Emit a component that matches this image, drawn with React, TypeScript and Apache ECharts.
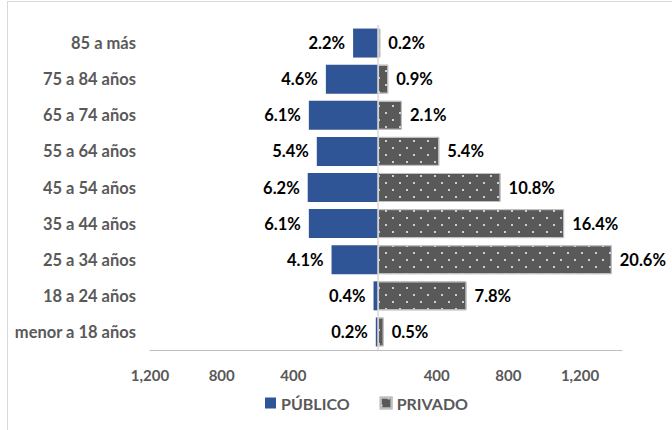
import React, { useEffect, useRef } from "react";
import * as echarts from "echarts";

const categories = [
  "85 a más",
  "75 a 84 años",
  "65 a 74 años",
  "55 a 64 años",
  "45 a 54 años",
  "35 a 44 años",
  "25 a 34 años",
  "18 a 24 años",
  "menor a 18 años",
];
const publico = [2.2, 4.6, 6.1, 5.4, 6.2, 6.1, 4.1, 0.4, 0.2];
const privado = [0.2, 0.9, 2.1, 5.4, 10.8, 16.4, 20.6, 7.8, 0.5];
const tickMin = -1200;
const tickMax = 1434;
const tickInterval = 400;

const FONT = "Lato, 'Noto Sans', sans-serif";
const GRAY = "#595959";

export default function App() {
  const ref = useRef<HTMLDivElement>(null);
  useEffect(() => {
    if (!ref.current) return;
    const chart = echarts.init(ref.current, null, { renderer: "svg" });
    const fmtTick = (v: number) => {
      if (v === 0 || Math.abs(v) > 1200) return "";
      return Math.abs(v).toLocaleString("en-US");
    };
    chart.setOption({
      animation: false,
      textStyle: { fontFamily: FONT },
      graphic: [
        { type: "line", shape: { x1: 7, y1: 1.5, x2: 672, y2: 1.5 }, style: { stroke: "#d9d9d9", lineWidth: 1 } },
        { type: "line", shape: { x1: 7.5, y1: 1, x2: 7.5, y2: 430 }, style: { stroke: "#d9d9d9", lineWidth: 1 } },
      ],
      grid: { left: 150, right: 50, top: 25, bottom: 80, containLabel: false, outerBoundsMode: "none" },
      legend: {
        bottom: 14,
        left: 260,
        itemWidth: 11,
        itemHeight: 11,
        itemGap: 30,
        icon: "rect",
        textStyle: { color: GRAY, fontWeight: "bold", fontSize: 16, fontFamily: FONT },
        data: ["PÚBLICO", "PRIVADO"],
      },
      xAxis: [
        { type: "value", min: -20.1, max: 21.5, show: false },
        {
          type: "value",
          min: tickMin,
          max: tickMax,
          interval: tickInterval,
          position: "bottom",
          axisLine: { show: true, onZero: false, lineStyle: { color: "#bfbfbf", width: 1 } },
          axisTick: { show: false },
          splitLine: { show: false },
          axisLabel: {
            margin: 17,
            color: GRAY,
            fontWeight: "bold",
            fontSize: 15,
            fontFamily: FONT,
            showMaxLabel: false,
            formatter: fmtTick,
          },
        },
      ],
      yAxis: {
        type: "category",
        inverse: true,
        data: categories,
        axisLine: { show: false, onZero: false },
        axisTick: { show: false },
        axisLabel: {
          margin: 14,
          color: GRAY,
          fontWeight: "bold",
          fontSize: 16.5,
          fontFamily: FONT,
        },
      },
      series: [
        {
          name: "PÚBLICO",
          type: "bar",
          xAxisIndex: 0,
          barWidth: 29,
          barGap: "-100%",
          data: publico.map((v) => -v),
          itemStyle: { color: "#2f5597" },
          label: {
            show: true,
            position: "left",
            distance: 8,
            color: "#000",
            fontWeight: "bold",
            fontSize: 16.5,
            fontFamily: FONT,
            formatter: (p: any) => Math.abs(p.value).toFixed(1) + "%",
          },
          markLine: {
            silent: true,
            symbol: "none",
            label: { show: false },
            lineStyle: { color: "#d9d9d9", width: 1.5, type: "solid" },
            data: [{ xAxis: 0 }],
            z: 5,
          },
          z: 3,
        },
        {
          name: "PRIVADO",
          type: "bar",
          xAxisIndex: 0,
          barWidth: 29,
          data: privado,
          itemStyle: {
            color: GRAY,
            borderColor: "#bfbfbf",
            borderWidth: 1,
            decal: {
              symbol: "rect",
              symbolSize: 1,
              color: "rgba(255,255,255,0.7)",
              dashArrayX: [[2, 12], [0, 7, 2, 5]],
              dashArrayY: [2, 5],
            },
          },
          label: {
            show: true,
            position: "right",
            distance: 8,
            color: "#000",
            fontWeight: "bold",
            fontSize: 16.5,
            fontFamily: FONT,
            formatter: (p: any) => p.value.toFixed(1) + "%",
          },
          z: 3,
        },
      ],
    });
    return () => chart.dispose();
  }, []);
  return (
    <div
      ref={ref}
      style={{ position: "fixed", left: 0, top: 0, width: 672, height: 430, background: "#fff" }}
    />
  );
}
